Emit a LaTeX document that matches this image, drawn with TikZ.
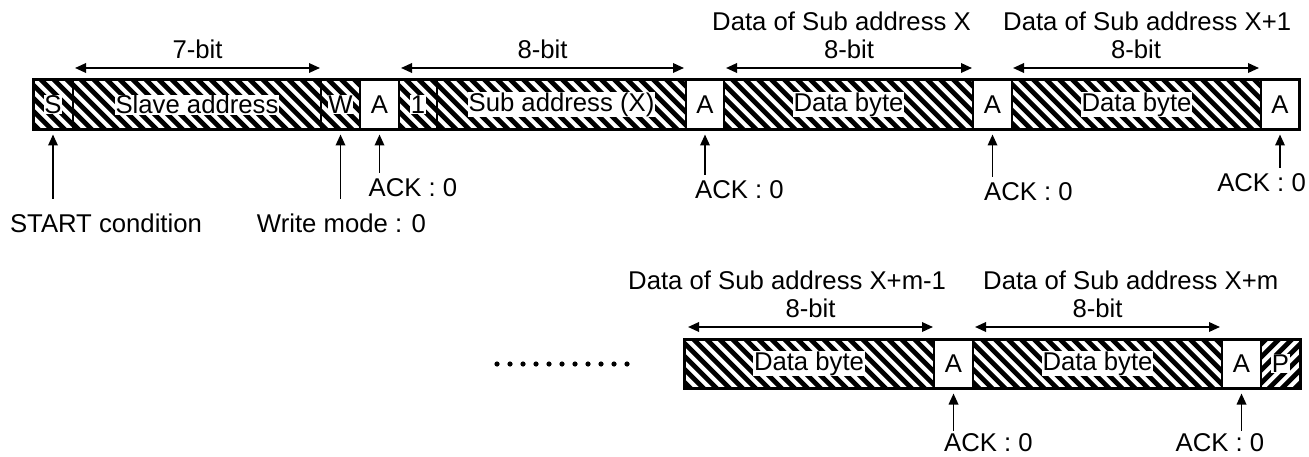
\documentclass[tikz,border=0pt]{standalone}
\usepackage{fontspec}
\setmainfont{Liberation Sans}
\usetikzlibrary{arrows.meta}
\newcommand\boxfont{\fontsize{25.7}{30}\selectfont}
\begin{document}
\begin{tikzpicture}[x=1pt,y=-1pt,
  >={Triangle[length=11pt,width=9.5pt]},
  seg/.style={draw,line width=1.5pt,minimum height=49.5pt,inner sep=0pt,outer sep=0pt,anchor=north west,font=\boxfont},
  hat/.style={seg,path picture={\foreach \k in {-16,...,16}{\draw[line width=4.7pt] ([xshift=\k*13pt-30pt,yshift=30pt]path picture bounding box.center) -- ++(60pt,-60pt);}}},
  hatp/.style={seg,path picture={\foreach \k in {-6,...,6}{\draw[line width=4.7pt] ([xshift=\k*13pt-30pt,yshift=-30pt]path picture bounding box.center) -- ++(60pt,60pt);}}},
  lbl/.style={fill=white,inner sep=0.6pt,font=\boxfont},
  txt/.style={inner sep=0pt,font=\boxfont},
  dtxt/.style={inner sep=0pt,font=\boxfont,anchor=west},
  dim/.style={<->,line width=1.8pt},
  up/.style={->,line width=1.8pt,shorten >=5pt},
  outer/.style={line width=3pt}
]
\fill[white] (0,0) rectangle (1309,457);
\useasboundingbox (0,0) rectangle (1309,457);

% ---------- top frame ----------
\node[hat,minimum width=40pt] (s) at (33,80) {};
\node[hat,minimum width=248pt] (sl) at (s.north east) {};
\node[hat,minimum width=39pt] (w) at (sl.north east) {};
\node[seg,minimum width=39pt] (a1) at (w.north east) {A};
\node[hat,minimum width=38pt] (one) at (a1.north east) {};
\node[hat,minimum width=249pt] (sub) at (one.north east) {};
\node[seg,minimum width=38pt] (a2) at (sub.north east) {A};
\node[hat,minimum width=249pt] (d1) at (a2.north east) {};
\node[seg,minimum width=39pt] (a3) at (d1.north east) {A};
\node[hat,minimum width=249pt] (d2) at (a3.north east) {};
\node[seg,minimum width=38pt] (a4) at (d2.north east) {A};
\draw[outer] (s.north west) rectangle (a4.south east);

\node[lbl] (sT) at (s.center) {S};
\node[lbl] (slT) at (sl.center) {Slave address};
\node[lbl] (wT) at (w.center) {W};
\node[lbl] (oneT) at (one.center) {1};
\node[lbl] (subT) at (sub.center) {Sub address (X)};
\node[lbl] (d1T) at (d1.center) {Data byte};
\node[lbl] (d2T) at (d2.center) {Data byte};

% dimension arrows top
\coordinate (m1l) at (75,68);   \coordinate (m1r) at (320,68);
\coordinate (m2l) at (401,68);  \coordinate (m2r) at (684,68);
\coordinate (m3l) at (726,68);  \coordinate (m3r) at (972,68);
\coordinate (m4l) at (1013,68); \coordinate (m4r) at (1259,68);
\draw[dim] (m1l) -- (m1r);
\draw[dim] (m2l) -- (m2r);
\draw[dim] (m3l) -- (m3r);
\draw[dim] (m4l) -- (m4r);
\node[txt] (b1) at (197.5,49) {7-bit};
\node[txt] (b2) at (542.5,49) {8-bit};
\node[txt] (b3) at (849,49) {8-bit};
\node[txt] (b4) at (1136,49) {8-bit};
\node[dtxt] (dl1) at (712,21) {Data of Sub address X};
\node[dtxt] (dl2) at (1003,21) {Data of Sub address X+1};

% pointer arrows top
\coordinate (ts) at ([yshift=-69.5pt]s.south);
\coordinate (tw) at ([yshift=-69.5pt]w.south);
\coordinate (ta1) at ([yshift=-43.5pt]a1.south);
\coordinate (ta2) at ([yshift=-45.5pt]a2.south);
\coordinate (ta3) at ([yshift=-47.5pt]a3.south);
\coordinate (ta4) at ([yshift=-38.5pt]a4.south);
\draw[up] (ts) -- (s.south);
\draw[up] (tw) -- (w.south);
\draw[up] (ta1) -- (a1.south);
\draw[up] (ta2) -- (a2.south);
\draw[up] (ta3) -- (a3.south);
\draw[up] (ta4) -- (a4.south);
\node[txt] (startT) at (106,223) {START condition};
\node[txt] (writeT) at (341.5,223) {Write mode : 0};
\node[txt] (ack1) at (413,188) {ACK : 0};
\node[txt] (ack2) at (739.5,190) {ACK : 0};
\node[txt] (ack3) at (1028.5,192) {ACK : 0};
\node[txt,anchor=east] (ack4) at (1306,183) {ACK : 0};

% ---------- bottom frame ----------
\node[hat,minimum width=250pt] (d3) at (684,339) {};
\node[seg,minimum width=39pt] (a5) at (d3.north east) {A};
\node[hat,minimum width=249pt] (d4) at (a5.north east) {};
\node[seg,minimum width=39pt] (a6) at (d4.north east) {A};
\node[hatp,minimum width=39pt] (p) at (a6.north east) {};
\draw[outer] (d3.north west) rectangle (p.south east);
\node[lbl] (d3T) at (d3.center) {Data byte};
\node[lbl] (d4T) at (d4.center) {Data byte};
\node[lbl] (pT) at (p.center) {P};

\coordinate (m5l) at (688,327);  \coordinate (m5r) at (933,327);
\coordinate (m6l) at (975,327);  \coordinate (m6r) at (1220,327);
\draw[dim] (m5l) -- (m5r);
\draw[dim] (m6l) -- (m6r);
\node[txt] (b5) at (810.5,308) {8-bit};
\node[txt] (b6) at (1097.5,308) {8-bit};
\node[dtxt] (dl3) at (628,280) {Data of Sub address X+m-1};
\node[dtxt] (dl4) at (983,280) {Data of Sub address X+m};

\coordinate (ta5) at ([yshift=-42pt]a5.south);
\coordinate (ta6) at ([yshift=-42pt]a6.south);
\draw[up] (ta5) -- (a5.south);
\draw[up] (ta6) -- (a6.south);
\node[txt] (ack5) at (988.5,443) {ACK : 0};
\node[txt] (ack6) at (1220,443) {ACK : 0};

% continuation dots
\foreach \i in {0,...,10} \fill (497+\i*13,364) circle (2.6pt);
\end{tikzpicture}
\end{document}
